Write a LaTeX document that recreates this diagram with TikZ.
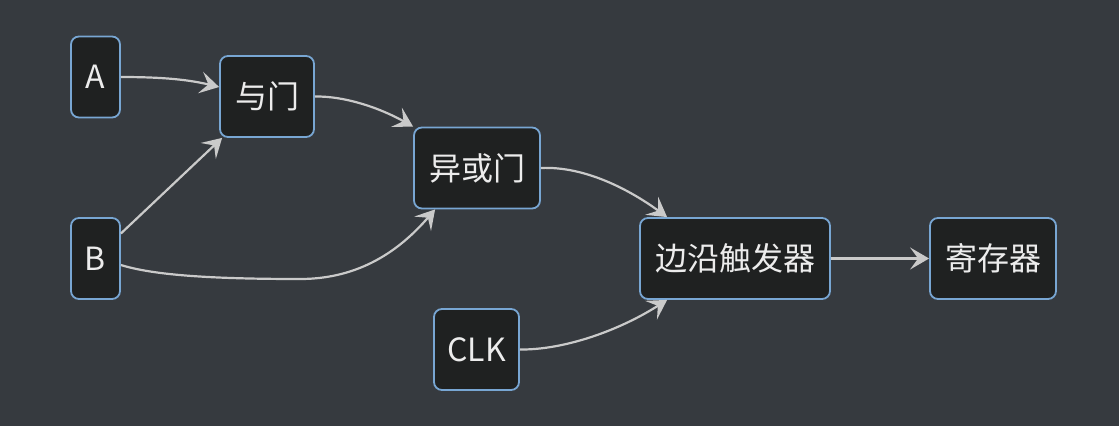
\documentclass[tikz,border=0pt]{standalone}
\usepackage{fontspec}
\setmainfont{Noto Sans CJK SC}
\usetikzlibrary{arrows.meta,calc}
\definecolor{bgc}{HTML}{363A3F}
\definecolor{nodefill}{HTML}{1F2121}
\definecolor{nodeborder}{HTML}{78A6D3}
\definecolor{linec}{HTML}{CACACA}
\definecolor{textc}{HTML}{ECECEC}
\begin{document}
\begin{tikzpicture}[x=1pt,y=-1pt,
  box/.style={draw=nodeborder, line width=1.8pt, fill=nodefill, rounded corners=8pt,
    inner sep=0pt, minimum height=81pt, text=textc,
    font=\fontsize{32}{38}\selectfont},
  conn/.style={draw=linec, line width=2.2pt,
    -{Stealth[length=19pt,width=22pt,inset=8pt]}}]
\useasboundingbox[fill=bgc] (0,0) rectangle (1119,426);
\node[box, minimum width=49pt] (A) at (95.5,77) {A};
\node[box, minimum width=49pt] (B) at (95.5,258.5) {B};
\node[box, minimum width=94pt] (yumen) at (267,96.5) {与门};
\node[box, minimum width=126pt] (xor) at (477,168) {异或门};
\node[box, minimum width=85pt] (clk) at (476.5,349.5) {CLK};
\node[box, minimum width=190pt] (edge) at (735,258.5) {边沿触发器};
\node[box, minimum width=126pt] (reg) at (993,258.5) {寄存器};

\draw[conn] (A.east) .. controls (165,77) and (190,80) .. ($(yumen.west)+(0,-9.5)$);
\draw[conn] ($(B.east)+(0,-25)$) -- ($(yumen.south west)+(3,0)$);
\draw[conn] (yumen.east) .. controls (345,96) and (380,108) .. (xor.north west);
\draw[conn] ($(B.east)+(0,6.5)$) .. controls (150,274) and (200,279) .. (300,279)
  .. controls (360,279) and (400,250) .. ($(xor.south west)+(22,0)$);
\draw[conn] (xor.east) .. controls (585,166) and (630,190) .. ($(edge.north west)+(28,0)$);
\draw[conn] (clk.east) .. controls (565,350) and (620,330) .. ($(edge.south west)+(28,0)$);
\draw[conn] (edge.east) -- (reg.west);
\end{tikzpicture}
\end{document}
